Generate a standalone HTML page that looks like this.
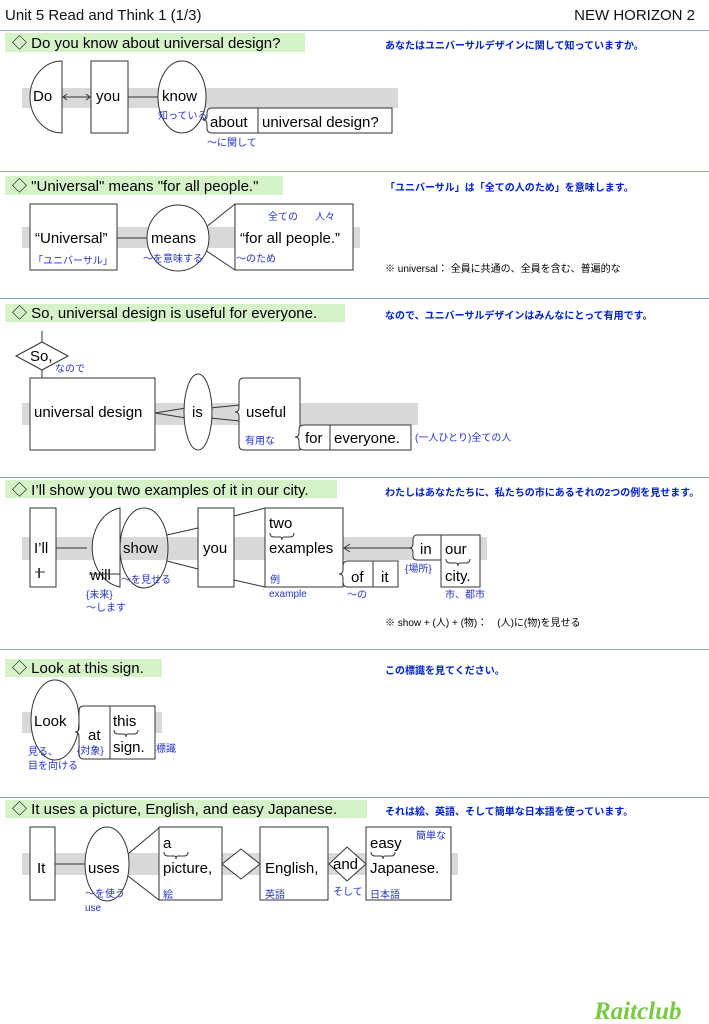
<!DOCTYPE html>
<html><head><meta charset="utf-8"><style>
html,body{margin:0;padding:0;background:#fff;}
svg{display:block;}
text{font-family:"Liberation Sans","Noto Sans CJK JP",sans-serif;}
.t{font-size:15px;fill:#000;}
.h{font-size:15px;fill:#111;}
.b{font-size:10px;fill:#2233cc;}
.j{font-size:10px;fill:#0022cc;font-weight:bold;}
.n{font-size:10px;fill:#000;}
.s{fill:#fff;stroke:#333;stroke-width:1;}
.l{stroke:#333;stroke-width:1;fill:none;}
.g{fill:#d9d9d9;}
.gr{fill:#d6f2c8;}
.sep{stroke:#8aa8d8;stroke-width:1;}
</style></head><body>
<svg width="709" height="1024" viewBox="0 0 709 1024" xmlns="http://www.w3.org/2000/svg">
<text x="5" y="20" class="h">Unit 5 Read and Think 1 (1/3)</text>
<text x="695" y="20" class="h" text-anchor="end">NEW HORIZON 2</text>
<line x1="0" y1="30.5" x2="709" y2="30.5" class="sep"/>

<!-- Section 1 -->
<rect x="5" y="33" width="300" height="19" class="gr"/>
<text x="12" y="48" class="t">◇ Do you know about universal design?</text>
<text x="385" y="49" class="j">あなたはユニバーサルデザインに関して知っていますか。</text>
<rect x="22" y="88" width="376" height="20" class="g"/>
<path d="M62,61 V133 A32,36 0 0 1 62,61 Z" class="s"/>
<text x="33" y="101" class="t">Do</text>
<line x1="64" y1="97" x2="89" y2="97" class="l"/>
<path d="M67,94 L63,97 L67,100 M86,94 L90,97 L86,100" class="l"/>
<rect x="91" y="61" width="37" height="72" class="s"/>
<text x="96" y="101" class="t">you</text>
<line x1="128" y1="97" x2="158" y2="97" class="l"/>
<ellipse cx="182" cy="97" rx="24" ry="36" class="s"/>
<text x="162" y="101" class="t">know</text>
<path d="M212,108 H392 V133 H212 Q207,133 207,128 V124 Q207,120 203,120 Q207,120 207,116 V113 Q207,108 212,108 Z" class="s"/>
<line x1="258" y1="108" x2="258" y2="133" class="l"/>
<text x="210" y="127" class="t">about</text>
<text x="262" y="127" class="t">universal design?</text>
<text x="158" y="119" class="b">知っている</text>
<text x="207" y="146" class="b">～に関して</text>
<line x1="0" y1="171.5" x2="709" y2="171.5" class="sep"/>

<!-- Section 2 -->
<rect x="5" y="176" width="278" height="19" class="gr"/>
<text x="12" y="191" class="t">◇ "Universal" means "for all people."</text>
<text x="385" y="191" class="j">「ユニバーサル」は「全ての人のため」を意味します。</text>
<rect x="22" y="227" width="338" height="21" class="g"/>
<rect x="30" y="204" width="87" height="66" class="s"/>
<text x="35" y="243" class="t">“Universal”</text>
<text x="33" y="264" class="b">「ユニバーサル」</text>
<line x1="117" y1="238" x2="147" y2="238" class="l"/>
<line x1="205" y1="228" x2="235" y2="204" class="l"/>
<line x1="205" y1="250" x2="235" y2="270" class="l"/>
<ellipse cx="178" cy="238" rx="31" ry="33" class="s"/>
<text x="151" y="243" class="t">means</text>
<text x="143" y="262" class="b">～を意味する</text>
<rect x="235" y="204" width="118" height="66" class="s"/>
<text x="268" y="220" class="b">全ての</text>
<text x="315" y="220" class="b">人々</text>
<text x="240" y="243" class="t">“for all people.”</text>
<text x="236" y="262" class="b">～のため</text>
<text x="385" y="272" class="n">※ universal： 全員に共通の、全員を含む、普遍的な</text>
<line x1="0" y1="298.5" x2="709" y2="298.5" class="sep"/>

<!-- Section 3 -->
<rect x="5" y="304" width="340" height="18" class="gr"/>
<text x="12" y="318" class="t">◇ So, universal design is useful for everyone.</text>
<text x="385" y="319" class="j">なので、ユニバーサルデザインはみんなにとって有用です。</text>
<rect x="22" y="403" width="396" height="22" class="g"/>
<line x1="42" y1="331" x2="42" y2="378" class="l"/>
<polygon points="16,356 42,342 68,356 42,370" class="s"/>
<text x="30" y="361" class="t">So,</text>
<text x="55" y="372" class="b">なので</text>
<rect x="30" y="378" width="125" height="72" class="s"/>
<text x="34" y="417" class="t">universal design</text>
<path d="M155,413 L186,408 M155,413 L186,418" class="l"/>
<path d="M210,408 L240,405 M210,418 L240,421" class="l"/>
<ellipse cx="198" cy="412" rx="14" ry="38" class="s"/>
<text x="192" y="417" class="t">is</text>
<path d="M244,378 H300 V450 H244 Q239,450 239,445 V416 Q239,412 235,412 Q239,412 239,408 V383 Q239,378 244,378 Z" class="s"/>
<text x="246" y="417" class="t">useful</text>
<text x="245" y="444" class="b">有用な</text>
<path d="M304,425 H411 V450 H304 Q299,450 299,445 V441 Q299,437 295,437 Q299,437 299,433 V430 Q299,425 304,425 Z" class="s"/>
<line x1="330" y1="425" x2="330" y2="450" class="l"/>
<text x="305" y="443" class="t">for</text>
<text x="334" y="443" class="t">everyone.</text>
<text x="415" y="441" class="b">(一人ひとり)全ての人</text>
<line x1="0" y1="477.5" x2="709" y2="477.5" class="sep"/>

<!-- Section 4 -->
<rect x="5" y="480" width="332" height="18" class="gr"/>
<text x="12" y="495" class="t">◇ I’ll show you two examples of it in our city.</text>
<text x="385" y="496" class="j">わたしはあなたたちに、私たちの市にあるそれの2つの例を見せます。</text>
<rect x="22" y="537" width="465" height="23" class="g"/>
<rect x="30" y="508" width="26" height="79" class="s"/>
<text x="34" y="553" class="t">I’ll</text>
<text x="37" y="578" class="t">I</text>
<line x1="35" y1="572" x2="45" y2="572" class="l"/>
<line x1="56" y1="548" x2="87" y2="548" class="l"/>
<path d="M120,508 V587 A33,40 0 0 1 120,508 Z" class="s"/>
<text x="90" y="580" class="t" fill="#333">will</text>
<line x1="89" y1="574" x2="120" y2="574" class="l"/>
<path d="M167,535 L198,528 M167,561 L198,569" class="l"/>
<ellipse cx="144" cy="548" rx="24" ry="40" class="s" fill-opacity="0"/>
<text x="123" y="553" class="t">show</text>
<text x="121" y="583" class="b">～を見せる</text>
<text x="86" y="598" class="b">{未来}</text>
<text x="86" y="611" class="b">～します</text>
<rect x="198" y="508" width="36" height="79" class="s"/>
<text x="203" y="553" class="t">you</text>
<path d="M234,516 L265,508 M234,580 L265,587" class="l"/>
<rect x="265" y="508" width="78" height="79" class="s"/>
<text x="269" y="528" class="t">two</text>
<path d="M270,533 q0,4 4,4 h6 q2,0 2,3 q0,-3 2,-3 h6 q4,0 4,-4" class="l"/>
<text x="269" y="553" class="t">examples</text>
<text x="270" y="583" class="b">例</text>
<text x="269" y="597" class="b">example</text>
<line x1="344" y1="548" x2="412" y2="548" class="l"/>
<path d="M350,544 L344,548 L350,552" class="l"/>
<path d="M348,561 H398 V587 H348 Q343,587 343,582 V578 Q343,574 339,574 Q343,574 343,570 V566 Q343,561 348,561 Z" class="s"/>
<line x1="373" y1="561" x2="373" y2="587" class="l"/>
<text x="351" y="582" class="t">of</text>
<text x="381" y="582" class="t">it</text>
<text x="347" y="598" class="b">～の</text>
<path d="M417,535 H441 V560 H417 Q413,560 413,556 V552 Q413,548 409,548 Q413,548 413,544 V540 Q413,535 417,535 Z" class="s"/>
<rect x="441" y="535" width="39" height="52" class="s"/>
<text x="420" y="554" class="t">in</text>
<text x="445" y="554" class="t">our</text>
<path d="M446,559 q0,4 4,4 h6 q2,0 2,3 q0,-3 2,-3 h6 q4,0 4,-4" class="l"/>
<text x="445" y="581" class="t">city.</text>
<text x="405" y="572" class="b">{場所}</text>
<text x="445" y="598" class="b">市、都市</text>
<text x="385" y="626" class="n">※ show + (人) + (物)：　(人)に(物)を見せる</text>
<line x1="0" y1="649.5" x2="709" y2="649.5" class="sep"/>

<!-- Section 5 -->
<rect x="5" y="659" width="157" height="18" class="gr"/>
<text x="12" y="673" class="t">◇ Look at this sign.</text>
<text x="385" y="674" class="j">この標識を見てください。</text>
<rect x="22" y="712" width="140" height="21" class="g"/>
<ellipse cx="55" cy="720" rx="24" ry="40" class="s"/>
<text x="34" y="726" class="t">Look</text>
<path d="M84,706 H110 V759 H84 Q79,759 79,754 V736 Q79,732 75,732 Q79,732 79,728 V711 Q79,706 84,706 Z" class="s"/>
<rect x="110" y="706" width="45" height="53" class="s"/>
<text x="88" y="740" class="t">at</text>
<text x="113" y="726" class="t">this</text>
<path d="M114,730 q0,4 4,4 h6 q2,0 2,3 q0,-3 2,-3 h6 q4,0 4,-4" class="l"/>
<text x="113" y="752" class="t">sign.</text>
<text x="156" y="752" class="b">標識</text>
<text x="28" y="755" class="b">見る、</text>
<text x="28" y="769" class="b">目を向ける</text>
<text x="77" y="754" class="b">{対象}</text>
<line x1="0" y1="797.5" x2="709" y2="797.5" class="sep"/>

<!-- Section 6 -->
<rect x="5" y="800" width="362" height="18" class="gr"/>
<text x="12" y="814" class="t">◇ It uses a picture, English, and easy Japanese.</text>
<text x="385" y="815" class="j">それは絵、英語、そして簡単な日本語を使っています。</text>
<rect x="22" y="853" width="436" height="22" class="g"/>
<rect x="30" y="827" width="25" height="73" class="s"/>
<text x="37" y="873" class="t">It</text>
<line x1="55" y1="864" x2="85" y2="864" class="l"/>
<path d="M128,854 L159,828 M128,876 L159,900" class="l"/>
<ellipse cx="107" cy="864" rx="22" ry="37" class="s"/>
<text x="88" y="873" class="t">uses</text>
<text x="85" y="897" class="b">～を使う</text>
<text x="85" y="911" class="b">use</text>
<rect x="159" y="827" width="63" height="73" class="s"/>
<text x="163" y="848" class="t">a</text>
<path d="M164,852 q0,4 4,4 h6 q2,0 2,3 q0,-3 2,-3 h6 q4,0 4,-4" class="l"/>
<text x="163" y="873" class="t">picture,</text>
<text x="163" y="898" class="b">絵</text>
<polygon points="222,864 241,849 260,864 241,879" class="s"/>
<rect x="260" y="827" width="68" height="73" class="s"/>
<text x="265" y="873" class="t">English,</text>
<text x="265" y="898" class="b">英語</text>
<polygon points="329,864 347,847 366,864 347,881" class="s"/>
<text x="333" y="869" class="t">and</text>
<text x="333" y="895" class="b">そして</text>
<rect x="366" y="827" width="85" height="73" class="s"/>
<text x="370" y="848" class="t">easy</text>
<path d="M371,852 q0,4 4,4 h6 q2,0 2,3 q0,-3 2,-3 h6 q4,0 4,-4" class="l"/>
<text x="370" y="873" class="t">Japanese.</text>
<text x="370" y="898" class="b">日本語</text>
<text x="416" y="839" class="b">簡単な</text>

<text x="594" y="1019" style="font-family:'Liberation Serif',serif;font-size:25px;font-weight:bold;font-style:italic;fill:#7ac943;">Raitclub</text>
</svg>
</body></html>
